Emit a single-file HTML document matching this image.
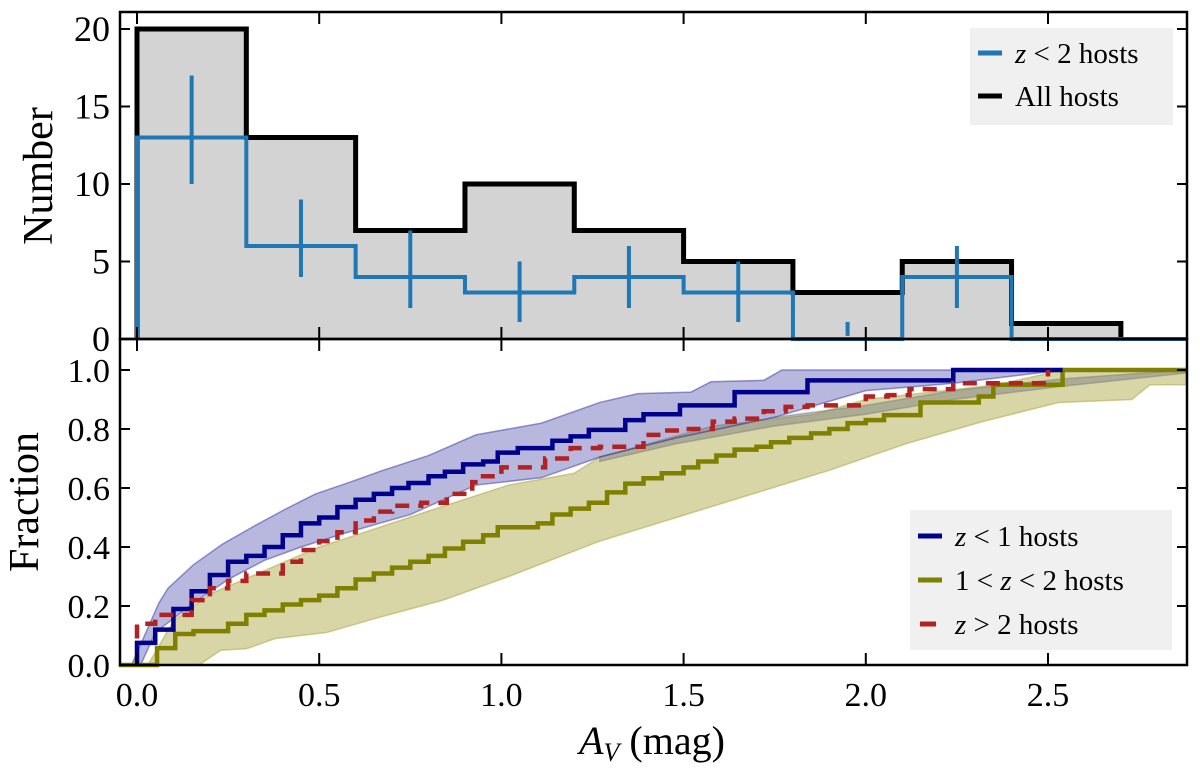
<!DOCTYPE html>
<html><head><meta charset="utf-8"><style>
body{margin:0;background:#fff}
svg{display:block;font-family:"Liberation Serif",serif}
</style></head><body>
<svg id="chart" width="1200" height="778" viewBox="0 0 1200 778" xmlns="http://www.w3.org/2000/svg">
<g id="bands"></g><g id="marks"></g><g id="axes"></g>
</svg>
<script>
const binEdges=[0,0.3,0.6,0.9,1.2,1.5,1.8,2.1,2.4,2.7];
const allHosts=[20,13,7,10,7,5,3,5,1];
const z2Hosts=[13,6,4,3,4,3,0,4,0];
const errLow=[10,4,2,1.1,2,1.1,0.2,2,null];
const errHigh=[17,9,7,5,6,5,1.1,6,null];
const topTicks=[0,5,10,15,20];
const xTicks=[0,0.5,1.0,1.5,2.0,2.5];
const fracTicks=[0,0.2,0.4,0.6,0.8,1.0];
const blueX=[0,0.05,0.1,0.15,0.2,0.25,0.3,0.35,0.4,0.45,0.5,0.55,0.6,0.65,0.7,0.745,0.8,0.845,0.895,0.95,0.99,1.045,1.14,1.19,1.24,1.34,1.39,1.49,1.64,1.84,2.24];
const blueY=[0.075,0.12,0.19,0.25,0.305,0.35,0.37,0.40,0.44,0.48,0.50,0.535,0.56,0.58,0.60,0.617,0.64,0.655,0.68,0.69,0.72,0.735,0.76,0.775,0.797,0.83,0.85,0.88,0.925,0.965,1.0];
const blueEnd=2.54;
const oliveX=[-0.05,0.055,0.105,0.155,0.25,0.3,0.35,0.4,0.45,0.5,0.55,0.6,0.65,0.7,0.75,0.8,0.845,0.895,0.95,0.99,1.1,1.14,1.19,1.24,1.29,1.34,1.39,1.44,1.5,1.54,1.59,1.64,1.7,1.74,1.79,1.85,1.9,1.95,2.0,2.05,2.15,2.31,2.35,2.54];
const oliveY=[0,0.057,0.105,0.115,0.14,0.17,0.185,0.205,0.22,0.235,0.26,0.29,0.31,0.33,0.35,0.37,0.395,0.418,0.44,0.467,0.48,0.51,0.53,0.55,0.585,0.615,0.633,0.65,0.67,0.69,0.71,0.73,0.74,0.755,0.77,0.785,0.80,0.82,0.83,0.847,0.89,0.91,0.95,1.0];
const oliveEnd=2.88;
const redX=[0,0.05,0.15,0.2,0.25,0.3,0.4,0.45,0.5,0.55,0.6,0.65,0.7,0.78,0.85,0.92,0.94,1.0,1.12,1.19,1.27,1.39,1.44,1.5,1.58,1.64,1.72,1.78,1.84,2.0,2.06,2.12,2.24,2.5];
const redY=[0.14,0.17,0.22,0.26,0.285,0.31,0.35,0.39,0.42,0.45,0.49,0.52,0.54,0.55,0.58,0.62,0.64,0.67,0.70,0.735,0.74,0.78,0.795,0.80,0.825,0.835,0.86,0.875,0.88,0.91,0.915,0.935,0.955,1.0];
const redEnd=2.5;
const bUpX=[-0.015,0.06,0.085,0.155,0.235,0.32,0.41,0.49,0.585,0.675,0.8,0.93,1.11,1.27,1.375,1.52,1.575,1.72,1.77,2.24,2.54];
const bUpY=[0,0.21,0.26,0.34,0.41,0.47,0.53,0.58,0.62,0.66,0.71,0.78,0.82,0.89,0.92,0.925,0.96,0.965,1.0,1.0,1.0];
const bLoX=[0.01,0.05,0.155,0.25,0.35,0.45,0.565,0.75,0.84,0.93,1.11,1.27,1.48,1.75,2.0,2.24,2.54];
const bLoY=[0,0.11,0.21,0.29,0.355,0.40,0.445,0.51,0.56,0.61,0.635,0.705,0.77,0.84,0.93,0.955,1.0];
const gUpX=[1.27,1.48,1.75,2.0,2.24,2.54,2.88];
const gUpY=[0.705,0.77,0.84,0.88,0.93,0.97,1.0];
const gLoX=[1.27,1.48,1.75,2.0,2.24,2.54,2.88];
const gLoY=[0.69,0.75,0.81,0.85,0.9,0.945,0.99];
const oUpX=[0.03,0.1,0.2,0.35,0.5,0.6,0.82,1.02,1.2,1.27,1.58,1.86,2.0,2.36,2.54,2.88];
const oUpY=[0,0.15,0.24,0.32,0.40,0.44,0.53,0.61,0.65,0.705,0.81,0.85,0.9,0.95,1.0,1.0];
const oLoX=[0.17,0.23,0.3,0.38,0.52,0.66,0.84,1.02,1.27,1.48,1.69,1.9,2.11,2.32,2.53,2.73,2.78,2.88];
const oLoY=[0,0.05,0.055,0.09,0.11,0.16,0.22,0.30,0.42,0.50,0.58,0.66,0.75,0.825,0.89,0.9,0.95,0.95];

const L=120,R=1187,T=12,M=339,B=665;
const X=a=>137+a*364.4;
const YT=v=>M-v*15.5;
const YB=f=>B-f*295;
const NS="http://www.w3.org/2000/svg";
function mk(tag,parent,attrs){const e=document.createElementNS(NS,tag);for(const k in attrs)e.setAttribute(k,attrs[k]);parent.appendChild(e);return e;}
const bands=document.getElementById('bands'),marks=document.getElementById('marks'),axes=document.getElementById('axes');

let d=`M${X(binEdges[0])},${YT(0)}`;
allHosts.forEach((v,i)=>{d+=`L${X(binEdges[i])},${YT(v)}L${X(binEdges[i+1])},${YT(v)}`;});
d+=`L${X(binEdges[binEdges.length-1])},${YT(0)}Z`;
let e=mk('path',marks,{d:d,fill:'#d3d3d3',stroke:'none'});


d=`M${X(binEdges[0])},${YT(0)}`;
allHosts.forEach((v,i)=>{d+=`L${X(binEdges[i])},${YT(v)}L${X(binEdges[i+1])},${YT(v)}`;});
d+=`L${X(binEdges[binEdges.length-1])},${YT(0)}`;
e=mk('path',marks,{d:d,fill:'none',stroke:'#000','stroke-width':5});


d=`M${X(binEdges[0])},${YT(0)}`;
z2Hosts.forEach((v,i)=>{d+=`L${X(binEdges[i])},${YT(v)}L${X(binEdges[i+1])},${YT(v)}`;});
d+=`L${X(binEdges[binEdges.length-1])},${YT(0)}L${R},${YT(0)}`;
e=mk('path',marks,{d:d,fill:'none',stroke:'#1f77b4','stroke-width':4});


errLow.forEach((lo,i)=>{if(lo===null)return;const c=(binEdges[i]+binEdges[i+1])/2;
 const l=mk('line',marks,{x1:X(c),x2:X(c),y1:YT(lo),y2:YT(errHigh[i]),stroke:'#1f77b4','stroke-width':4});
 
 });

function band(ux,uy,lx,ly,fill,op,stroke,name){
 let p=ux.map((x,i)=>`${X(x)},${YB(uy[i])}`);
 for(let i=lx.length-1;i>=0;i--)p.push(`${X(lx[i])},${YB(ly[i])}`);
 const g=mk('polygon',bands,{points:p.join(' '),fill:fill,'fill-opacity':op,stroke:stroke,'stroke-width':1.5,'stroke-opacity':0.5});
 
 
}
band(oUpX,oUpY,oLoX,oLoY,'#a8a43a',0.45,'#a8a43a','olive-band');
band(gUpX,gUpY,gLoX,gLoY,'#808080',0.5,'#808080','gray-band');
band(bUpX,bUpY,bLoX,bLoY,'#3333a0',0.35,'#3333a0','blue-band');

function step(xs,ys,end,start0,color,w,dash,name){
 let d=`M${X(xs[0])},${YB(start0)}`;
 xs.forEach((x,i)=>{d+=`L${X(x)},${YB(i?ys[i-1]:start0)}L${X(x)},${YB(ys[i])}`;});
 d+=`L${X(end)},${YB(ys[ys.length-1])}`;
 const p=mk('path',marks,{d:d,fill:'none',stroke:color,'stroke-width':w});
 if(dash)p.setAttribute('stroke-dasharray',dash);
 
 
}
step(oliveX,oliveY,oliveEnd,0,'#808000',4.5,null,'z-1-2-cdf');
step(blueX,blueY,blueEnd,0,'#00008b',4.5,null,'z-lt-1-cdf');
step(redX,redY,redEnd,0.09,'#b22222',4.5,'14,9','z-gt-2-cdf');

[[T,M],[M,B]].forEach(([t,b],k)=>{
 const r=mk('rect',axes,{x:L,y:t,width:R-L,height:b-t,fill:'none',stroke:'#000','stroke-width':2.5});
 
 
 xTicks.forEach(a=>{mk('line',axes,{x1:X(a),x2:X(a),y1:t,y2:t+12,stroke:'#000','stroke-width':2});mk('line',axes,{x1:X(a),x2:X(a),y1:b,y2:b-12,stroke:'#000','stroke-width':2});});
});
topTicks.forEach(v=>{
 mk('line',axes,{x1:L,x2:L+10,y1:YT(v),y2:YT(v),stroke:'#000','stroke-width':2});
 mk('line',axes,{x1:R,x2:R-10,y1:YT(v),y2:YT(v),stroke:'#000','stroke-width':2});
 const t=mk('text',axes,{x:110,y:YT(v)+12,'text-anchor':'end','font-size':36});t.textContent=String(v);
 
 
});
fracTicks.forEach(v=>{
 mk('line',axes,{x1:L,x2:L+10,y1:YB(v),y2:YB(v),stroke:'#000','stroke-width':2});
 mk('line',axes,{x1:R,x2:R-10,y1:YB(v),y2:YB(v),stroke:'#000','stroke-width':2});
 const t=mk('text',axes,{x:110,y:YB(v)+12,'text-anchor':'end','font-size':34});t.textContent=v.toFixed(1);
 
 
});
xTicks.forEach(a=>{
 const t=mk('text',axes,{x:X(a),y:706,'text-anchor':'middle','font-size':34});t.textContent=a.toFixed(1);
 
 
});
</script>
<svg style="position:absolute;left:0;top:0" width="1200" height="778" xmlns="http://www.w3.org/2000/svg" font-family="Liberation Serif, serif">
<text transform="translate(52,176) rotate(-90)" text-anchor="middle" font-size="42">Number</text>
<text transform="translate(38,502) rotate(-90)" text-anchor="middle" font-size="42">Fraction</text>
<text x="652" y="754" text-anchor="middle" font-size="40"><tspan font-style="italic">A</tspan><tspan font-style="italic" font-size="26" dy="7">V</tspan><tspan dy="-7"> (mag)</tspan></text>
<g>
<rect x="970" y="28" width="203" height="97" fill="#f0f0f0"/>
<line x1="978" x2="1002" y1="53" y2="53" stroke="#1f77b4" stroke-width="5"/>
<text x="1015" y="63" font-size="29"><tspan font-style="italic">z</tspan> &lt; 2 hosts</text>
<line x1="978" x2="1002" y1="96" y2="96" stroke="#000" stroke-width="5"/>
<text x="1015" y="106" font-size="29">All hosts</text>
</g>
<g>
<rect x="910" y="510" width="262" height="140" fill="#f0f0f0"/>
<line x1="918" x2="942" y1="536" y2="536" stroke="#00008b" stroke-width="5"/>
<text x="955" y="546" font-size="29"><tspan font-style="italic">z</tspan> &lt; 1 hosts</text>
<line x1="918" x2="942" y1="580" y2="580" stroke="#808000" stroke-width="5"/>
<text x="955" y="590" font-size="29">1 &lt; <tspan font-style="italic">z</tspan> &lt; 2 hosts</text>
<line x1="920" x2="936" y1="624" y2="624" stroke="#b22222" stroke-width="5"/>
<text x="955" y="634" font-size="29"><tspan font-style="italic">z</tspan> &gt; 2 hosts</text>
</g>
</svg>
</body></html>
